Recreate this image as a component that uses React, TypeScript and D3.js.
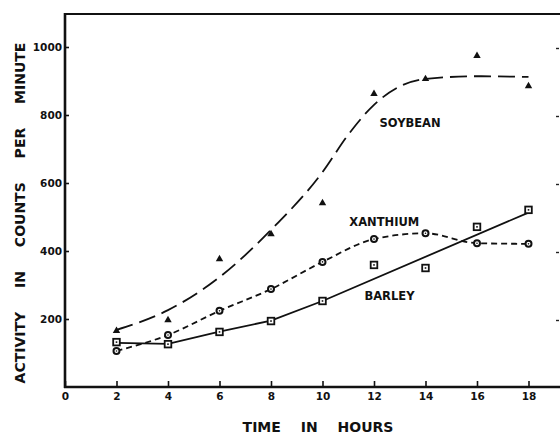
import React, { useEffect, useRef } from "react";
import * as d3 from "d3";

// measured points
const hours = [2, 4, 6, 8, 10, 12, 14, 16, 18];
const soybean = [165, 197, 376, 450, 541, 862, 906, 974, 885];
const xanthium = [106, 153, 224, 288, 368, 435, 452, 423, 421];
const barley = [132, 126, 162, 194, 253, 359, 350, 471, 521];

// fitted curves as drawn on the figure
const soybeanCurveHours = [2, 4, 6, 8, 10, 11, 12, 13, 14, 16, 18];
const soybeanCurve = [168, 226, 323, 462, 632, 742, 830, 884, 906, 914, 912];
const barleyLineHours = [2, 4, 6, 8, 10, 18];
const barleyLine = [130, 127, 163, 195, 253, 513];

const xTicks = [0, 2, 4, 6, 8, 10, 12, 14, 16, 18];
const yTicks = [200, 400, 600, 800, 1000];

const labels = [
  { text: "SOYBEAN", hour: 13.4, value: 765 },
  { text: "XANTHIUM", hour: 12.4, value: 474 },
  { text: "BARLEY", hour: 12.6, value: 256 },
];

const W = 560;
const H = 435;
const FONT = "'DejaVu Sans', sans-serif";

export default function App() {
  const ref = useRef<SVGSVGElement>(null);

  useEffect(() => {
    const svg = d3.select(ref.current);
    svg.selectAll("*").remove();

    const x = d3.scaleLinear().domain([0, 20]).range([65, 580]);
    const y = d3.scaleLinear().domain([0, 1100]).range([387, 13]);

    const g = svg.append("g");

    // frame: left axis, bottom axis, top border
    g.append("line").attr("x1", 65).attr("x2", 65).attr("y1", 13).attr("y2", 388)
      .attr("stroke", "#111").attr("stroke-width", 2.6);
    g.append("line").attr("x1", 64).attr("x2", W).attr("y1", 387).attr("y2", 387)
      .attr("stroke", "#111").attr("stroke-width", 2.4);
    g.append("line").attr("x1", 64).attr("x2", W).attr("y1", 14).attr("y2", 14)
      .attr("stroke", "#111").attr("stroke-width", 2);

    const yAxis = d3.axisLeft(y).tickValues(yTicks).tickSize(-4).tickPadding(3)
      .tickFormat((d) => String(d));
    const yG = g.append("g").attr("transform", "translate(65,0)").call(yAxis);
    yG.select(".domain").remove();
    yG.selectAll("line").attr("stroke", "#111").attr("stroke-width", 1.6);
    yG.selectAll("text").attr("font-family", FONT).attr("font-weight", "bold")
      .attr("font-size", 10.5).attr("fill", "#111");

    const xAxis = d3.axisBottom(x).tickValues(xTicks).tickSize(-6).tickPadding(6)
      .tickFormat((d) => String(d));
    const xG = g.append("g").attr("transform", "translate(0,387)").call(xAxis);
    xG.select(".domain").remove();
    xG.selectAll("line").attr("stroke", "#111").attr("stroke-width", 1.6);
    xG.selectAll("text").attr("font-family", FONT).attr("font-weight", "bold")
      .attr("font-size", 10.5).attr("fill", "#111");

    // faint tick marks along the right edge
    const rAxis = d3.axisRight(y).tickValues(yTicks).tickSize(3).tickFormat(() => "");
    const rG = g.append("g").attr("transform", "translate(556,1)").call(rAxis);
    rG.select(".domain").remove();
    rG.selectAll("line").attr("stroke", "#222").attr("stroke-width", 1.4);

    // curves
    const line = d3.line<[number, number]>().x((d) => x(d[0])).y((d) => y(d[1]));

    g.append("path")
      .datum(soybeanCurveHours.map((h, i) => [h, soybeanCurve[i]] as [number, number]))
      .attr("d", line.curve(d3.curveMonotoneX))
      .attr("fill", "none").attr("stroke", "#111").attr("stroke-width", 1.8)
      .attr("stroke-dasharray", "17 7");

    g.append("path")
      .datum(hours.map((h, i) => [h, xanthium[i]] as [number, number]))
      .attr("d", line.curve(d3.curveMonotoneX))
      .attr("fill", "none").attr("stroke", "#111").attr("stroke-width", 1.8)
      .attr("stroke-dasharray", "6 4");

    g.append("path")
      .datum(barleyLineHours.map((h, i) => [h, barleyLine[i]] as [number, number]))
      .attr("d", line.curve(d3.curveLinear))
      .attr("fill", "none").attr("stroke", "#111").attr("stroke-width", 1.8);

    // markers
    g.selectAll("path.tri")
      .data(hours.map((h, i) => [h, soybean[i]]))
      .enter().append("path").attr("class", "tri")
      .attr("d", d3.symbol(d3.symbolTriangle, 24)())
      .attr("transform", (d) => `translate(${x(d[0])},${y(d[1])})`)
      .attr("fill", "#111");

    const circ = g.selectAll("g.circ")
      .data(hours.map((h, i) => [h, xanthium[i]]))
      .enter().append("g").attr("class", "circ")
      .attr("transform", (d) => `translate(${x(d[0])},${y(d[1])})`);
    circ.append("circle").attr("r", 3).attr("fill", "#fff")
      .attr("stroke", "#111").attr("stroke-width", 2);
    circ.append("circle").attr("r", 0.8).attr("fill", "#111");

    const sq = g.selectAll("g.sq")
      .data(hours.map((h, i) => [h, barley[i]]))
      .enter().append("g").attr("class", "sq")
      .attr("transform", (d) => `translate(${x(d[0])},${y(d[1])})`);
    sq.append("rect").attr("x", -3.3).attr("y", -3.3).attr("width", 6.6).attr("height", 6.6)
      .attr("fill", "#fff").attr("stroke", "#111").attr("stroke-width", 1.8);
    sq.append("rect").attr("x", -0.8).attr("y", -0.8).attr("width", 1.6).attr("height", 1.6)
      .attr("fill", "#111");

    // series labels
    g.selectAll("text.lab")
      .data(labels)
      .enter().append("text").attr("class", "lab")
      .attr("x", (d) => x(d.hour)).attr("y", (d) => y(d.value))
      .attr("text-anchor", "middle")
      .attr("font-family", FONT).attr("font-weight", "bold").attr("font-size", 11.5)
      .attr("fill", "#111")
      .text((d) => d.text);

    // axis titles
    g.append("text")
      .attr("x", 318).attr("y", 432).attr("text-anchor", "middle")
      .attr("font-family", FONT).attr("font-weight", "bold").attr("font-size", 14)
      .attr("word-spacing", 15).attr("fill", "#111")
      .text("TIME IN HOURS");

    g.append("text")
      .attr("transform", "translate(25,213) rotate(-90)")
      .attr("text-anchor", "middle")
      .attr("font-family", FONT).attr("font-weight", "bold").attr("font-size", 14)
      .attr("word-spacing", 19).attr("fill", "#111")
      .text("ACTIVITY IN COUNTS PER MINUTE");
  }, []);

  return (
    <svg
      ref={ref}
      width={W}
      height={H}
      style={{ position: "absolute", left: 0, top: 0, background: "#fff" }}
    />
  );
}
